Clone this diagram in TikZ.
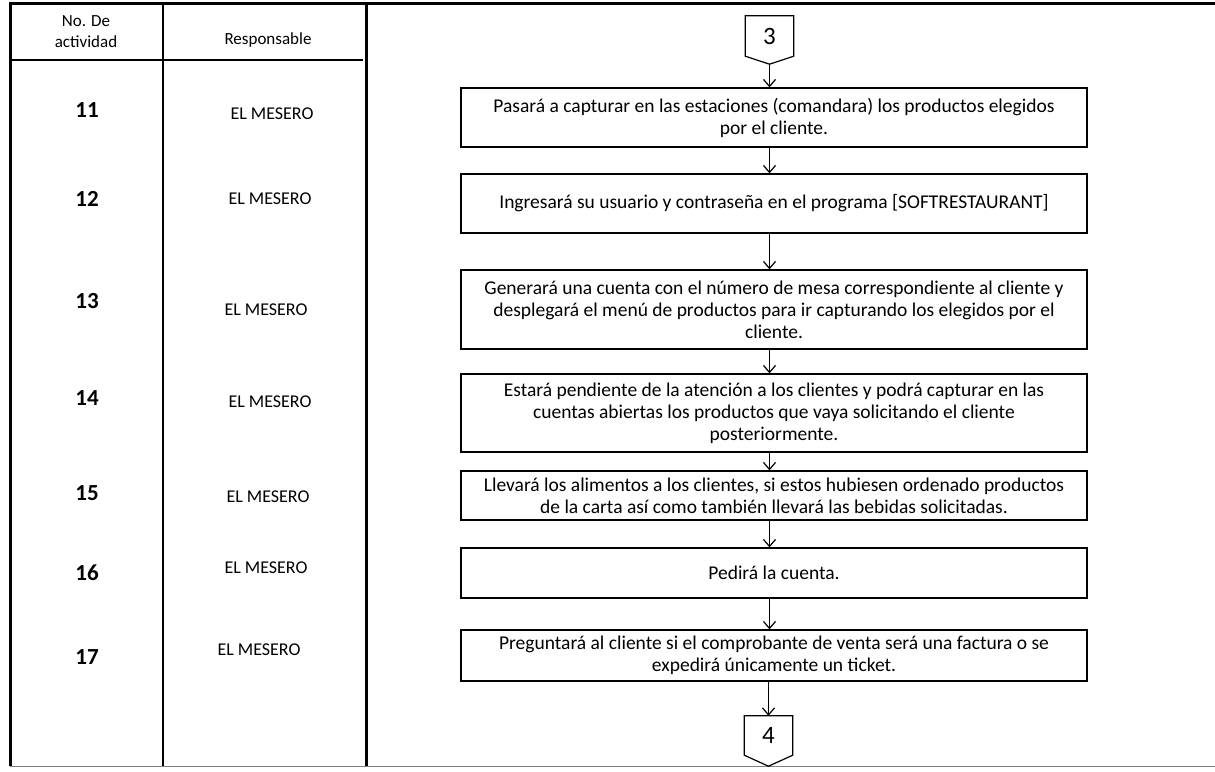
\documentclass[tikz,border=0pt]{standalone}
\usepackage{fontspec}
\setmainfont{Carlito}
\usetikzlibrary{arrows.meta}
\begin{document}
\begin{tikzpicture}[x=1pt,y=-1pt,
  actbox/.style={draw, line width=1.3pt, minimum width=626pt, align=center, inner sep=0pt, font=\fontsize{19.5}{22}\selectfont},
  offpage/.style={minimum width=48pt, inner sep=0pt, font=\fontsize{25}{26}\selectfont},
  flecha/.style={line width=1.2pt, -{Straight Barb[length=7pt,width=12pt]}},
  numtxt/.style={font=\fontsize{23}{24}\selectfont\bfseries},
  resptxt/.style={font=\fontsize{18}{20}\selectfont},
  headtxt/.style={font=\fontsize{17}{21}\selectfont, align=center}]
\useasboundingbox (0,0) rectangle (1215,771);
% table frame
\draw[line width=3pt] (1215,3) -- (10,3) -- (10,766);
\draw[line width=2.5pt] (163,3) -- (163,766);
\draw[line width=3pt] (366,3) -- (366,766);
\draw[line width=2.5pt] (10,60) -- (363,60);
\draw[gray, line width=1pt] (10,766) -- (1215,766);
% header
\node[headtxt] (hno) at (86,32) {No. De\\actividad};
\node[headtxt] (hresp) at (268,40) {Responsable};
% activity numbers and who does them
\foreach \n/\y/\rx/\ry in {11/110/272/114, 12/199/270/199, 13/301/266/310,
    14/398/270/402, 15/493/268/497, 16/573/266/568, 17/657/259/650} {
  \node[numtxt] (n\n) at (87,\y) {\n};
  \node[resptxt] (r\n) at (\rx,\ry) {EL MESERO};
}
% off-page connector 3
\node[offpage, minimum height=40pt] (c3) at (769.5,36) {3};
\draw[line width=1.2pt] (c3.north west) -- (c3.north east) -- (c3.south east)
  -- ([yshift=-8pt]c3.south) -- (c3.south west) -- cycle;
\coordinate (c3tip) at ([yshift=-8pt]c3.south);
% activities
\node[actbox, minimum height=59pt] (b1) at (774,117.5) {Pasará a capturar en las estaciones (comandara) los productos elegidos\\por el cliente.};
\node[actbox, minimum height=59pt] (b2) at (774,203.5) {Ingresará su usuario y contraseña en el programa [SOFTRESTAURANT]};
\node[actbox, minimum height=79pt] (b3) at (774,309.5) {Generará una cuenta con el número de mesa correspondiente al cliente y\\desplegará el menú de productos para ir capturando los elegidos por el\\cliente.};
\node[actbox, minimum height=78pt] (b4) at (774,413) {Estará pendiente de la atención a los clientes y podrá capturar en las\\cuentas abiertas los productos que  vaya solicitando el cliente\\posteriormente.};
\node[actbox, minimum height=49pt] (b5) at (774,495.5) {Llevará los alimentos a los clientes, si estos hubiesen ordenado productos\\de la carta así como también llevará las bebidas solicitadas.};
\node[actbox, minimum height=50pt] (b6) at (774,573) {Pedirá la cuenta.};
\node[actbox, minimum height=51pt] (b7) at (774,655.5) {Preguntará al cliente si el comprobante de venta será una factura o se\\expedirá únicamente un ticket.};
% off-page connector 4
\node[offpage, minimum height=39pt] (c4) at (768.5,735.5) {4};
\draw[line width=1.2pt] (c4.north west) -- (c4.north east) -- (c4.south east)
  -- ([yshift=-11pt]c4.south) -- (c4.south west) -- cycle;
% arrows
\draw[flecha] (c3tip) -- (b1.north -| c3tip);
\foreach \a/\b in {b1/b2, b2/b3, b3/b4, b4/b5, b5/b6, b6/b7}
  \draw[flecha] (\a.south -| c3tip) -- (\b.north -| c3tip);
\draw[flecha] (b7.south -| c4) -- (c4.north);
\end{tikzpicture}
\end{document}
